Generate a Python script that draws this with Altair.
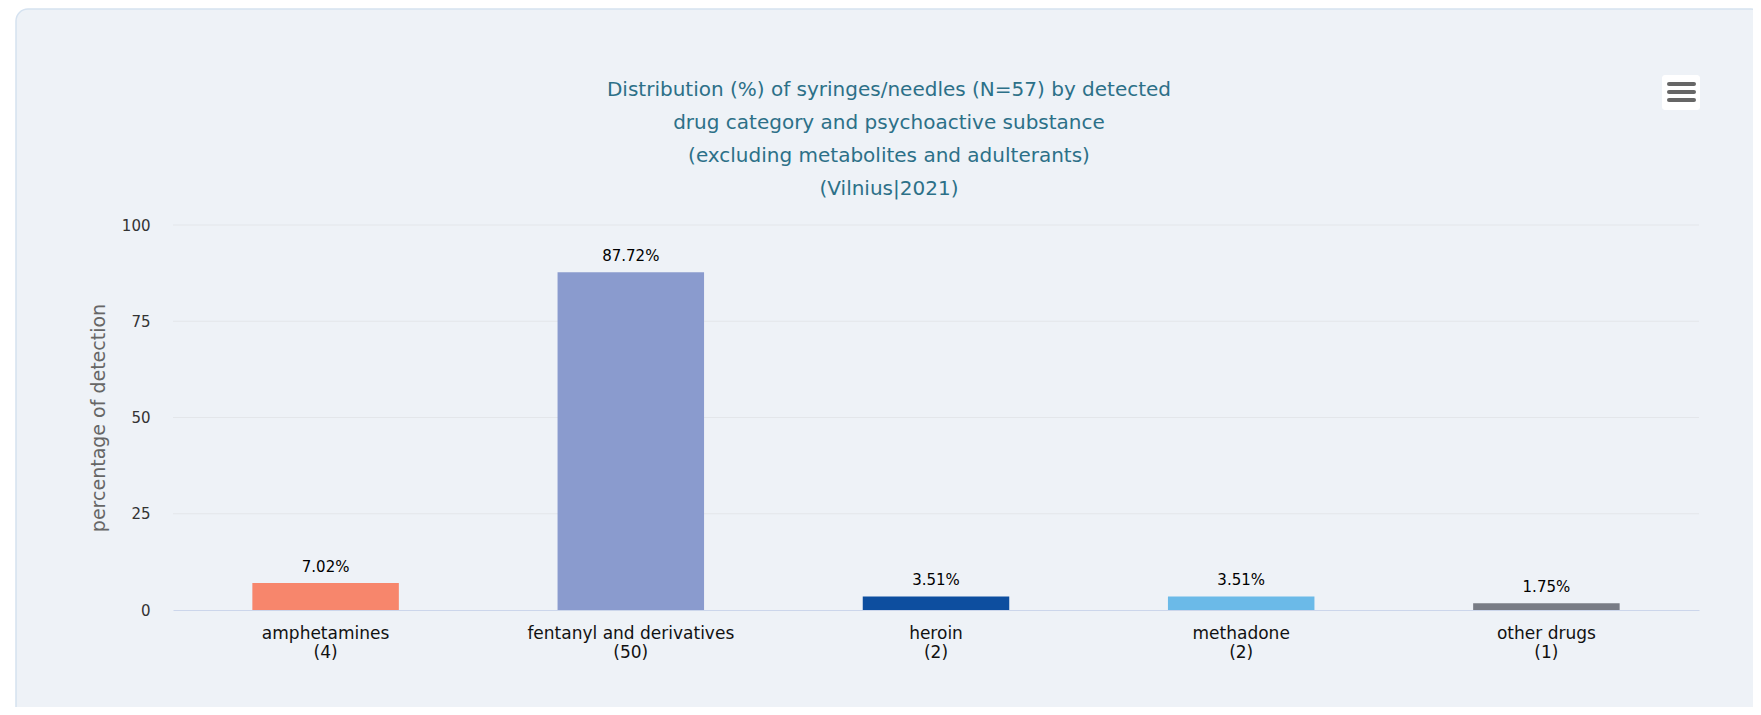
import altair as alt
import pandas as pd

FONT = "DejaVu Sans"

categories = ["amphetamines", "fentanyl and derivatives", "heroin", "methadone", "other drugs"]
counts = [4, 50, 2, 2, 1]
percentages = [7.02, 87.72, 3.51, 3.51, 1.75]
colors = ["#F7866C", "#8A9BCE", "#0D4E9F", "#6BBAE8", "#787C85"]
y_ticks = [0, 25, 50, 75, 100]
title_lines = [
    "Distribution (%) of syringes/needles (N=57) by detected",
    "drug category and psychoactive substance",
    "(excluding metabolites and adulterants)",
    "(Vilnius|2021)",
]
y_title = "percentage of detection"

df = pd.DataFrame({
    "label": [f"{c}\n({n})" for c, n in zip(categories, counts)],
    "value": percentages,
    "text": [f"{v:.2f}%" for v in percentages],
    "color": colors,
})

W, H = 1526, 385

x_enc = alt.X(
    "label:N", sort=None,
    scale=alt.Scale(paddingInner=0.52, paddingOuter=0.26),
    axis=alt.Axis(title=None, labelExpr="split(datum.label, '\\n')", labelAngle=0,
                  ticks=False, domainColor="#ccd6eb", domainWidth=1,
                  labelPadding=15, labelFontSize=17, labelColor="#111",
                  labelLineHeight=19, labelBaseline="top", labelLimit=400,
                  labelOverlap=False, labelFont=FONT, zindex=1),
)
y_scale = alt.Scale(domain=[0, 100])
y_axis = alt.Axis(values=y_ticks, title=y_title, grid=False, domain=False,
                  ticks=False, labelPadding=23, labelFontSize=15, labelColor="#333",
                  labelFont=FONT, titleFont=FONT, titleColor="#666",
                  titleFontSize=19, titleFontWeight="normal", titlePadding=13,
                  zindex=1)

# background card
card = alt.Chart(pd.DataFrame({"a": [0]})).mark_rect(
    fill="#EEF2F7", stroke="#D5E2F0", strokeWidth=1.5, cornerRadius=12
).encode(x=alt.value(-157), x2=alt.value(1590), y=alt.value(-216), y2=alt.value(520))

grid = alt.Chart(pd.DataFrame({"tick": y_ticks[1:]})).mark_rule(
    color="#e3e6ea", strokeWidth=1
).encode(y=alt.Y("tick:Q", scale=y_scale, title=y_title, axis=y_axis))

bars = alt.Chart(df).mark_bar().encode(
    x=x_enc,
    y=alt.Y("value:Q", scale=y_scale, title=y_title, axis=y_axis),
    color=alt.Color("color:N", scale=None, legend=None),
)

texts = alt.Chart(df).mark_text(
    baseline="bottom", dy=-8, fontSize=15, fontWeight="normal", color="#000", font=FONT
).encode(x=alt.X("label:N", sort=None),
         y=alt.Y("value:Q", scale=y_scale, title=y_title, axis=y_axis),
         text="text:N")

menu_box = alt.Chart(pd.DataFrame({"a": [0]})).mark_rect(
    fill="white", cornerRadius=3
).encode(x=alt.value(1489), x2=alt.value(1527), y=alt.value(-150), y2=alt.value(-115))

menu_lines = [
    alt.Chart(pd.DataFrame({"a": [0]})).mark_rule(
        color="#666", strokeWidth=4, strokeCap="round"
    ).encode(x=alt.value(1496), x2=alt.value(1521), y=alt.value(yv))
    for yv in (-141, -133, -125)
]

chart = alt.layer(card, grid, bars, texts, menu_box, *menu_lines).properties(
    width=W, height=H,
    autosize=alt.AutoSizeParams(type="none"),
    padding={"left": 165, "top": 217, "right": 54, "bottom": 97},
    title=alt.TitleParams(
        text=title_lines, fontSize=20, font=FONT, color="#2C7088",
        fontWeight="normal", lineHeight=33, anchor="middle", dx=-47, offset=-191,
    ),
).configure(background="white").configure_view(stroke=None)

chart.save("out.html", embed_options={"renderer": "svg", "actions": False})
